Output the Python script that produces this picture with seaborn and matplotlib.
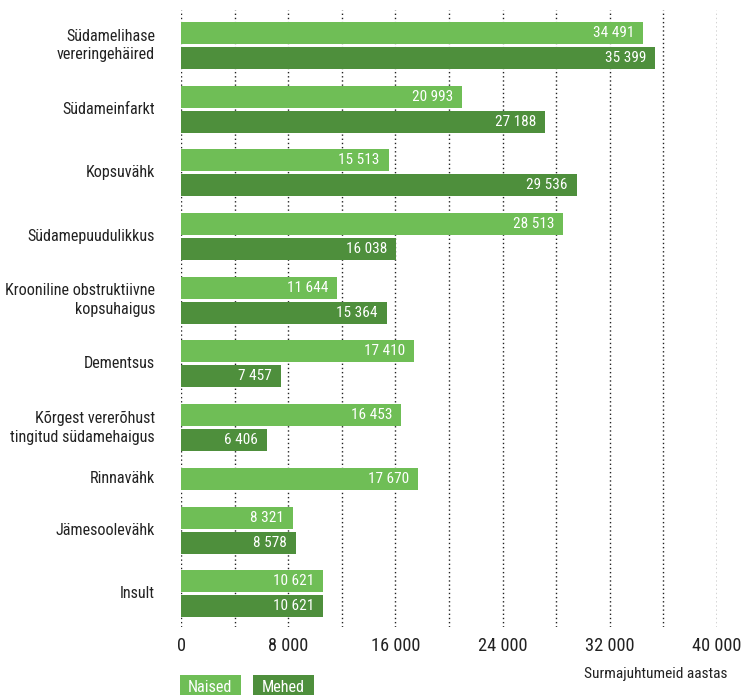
import matplotlib
matplotlib.use("Agg")
import matplotlib.pyplot as plt
import matplotlib.transforms as mtransforms
from matplotlib import font_manager
import numpy as np
import pandas as pd
import seaborn as sns

categories = ["Südamelihase\nvereringehäired", "Südameinfarkt", "Kopsuvähk",
              "Südamepuudulikkus", "Krooniline obstruktiivne\nkopsuhaigus",
              "Dementsus", "Kõrgest vererõhust\ntingitud südamehaigus",
              "Rinnavähk", "Jämesoolevähk", "Insult"]
naised = [34491, 20993, 15513, 28513, 11644, 17410, 16453, 17670, 8321, 10621]
mehed = [35399, 27188, 29536, 16038, 15364, 7457, 6406, None, 8578, 10621]
series_names = ["Naised", "Mehed"]
x_ticks = [0, 8000, 16000, 24000, 32000, 40000]
x_title = "Surmajuhtumeid aastas"

colors = {"Naised": "#6FBE56", "Mehed": "#4E8F3C"}

sns.set_theme(style="white")
names = {f.name for f in font_manager.fontManager.ttflist}
fam = [f for f in ["Liberation Sans Narrow", "Roboto Condensed", "Open Sans Condensed", "DejaVu Sans Condensed"] if f in names]
plt.rcParams["font.family"] = fam + ["Liberation Sans", "DejaVu Sans"]

# layout in pixel-like units (y grows downward)
bar_h, bar_pitch, group_gap = 22, 25, 16.7
rows = []
group_centers = []
y = 22.0
for cat, n_val, m_val in zip(categories, naised, mehed):
    start = y
    for s, v in zip(series_names, [n_val, m_val]):
        if v is None:
            continue
        rows.append({"category": cat, "series": s, "value": v, "pos": y + bar_h / 2})
        y += bar_pitch
    end = y - (bar_pitch - bar_h)
    group_centers.append((start + end) / 2)
    y = end + group_gap
df = pd.DataFrame(rows)

fig = plt.figure(figsize=(7.43, 6.95), dpi=100)
ax = fig.add_axes([181 / 743, 1 - 627 / 695, (717 - 181) / 743, (627 - 10) / 695])

sns.barplot(data=df, x="value", y="pos", hue="series", hue_order=series_names,
            palette=colors, orient="h", native_scale=True, dodge=False,
            width=bar_h / bar_pitch, errorbar=None, legend=False, ax=ax,
            linewidth=0, saturation=1)

ax.set_xlim(0, 40000)
ax.set_ylim(627, 10)
ax.set_xticks(x_ticks)
ax.set_xticks(np.arange(0, 40001, 4000), minor=True)
ax.set_xticklabels([f"{t:,}".replace(",", " ") for t in x_ticks], fontsize=12, color="#222222")
ax.set_yticks([])
ax.tick_params(axis="x", which="both", length=0, pad=7)
for sp in ax.spines.values():
    sp.set_visible(False)
ax.set_axisbelow(True)
for gx in np.arange(0, 40001, 4000):
    ax.axvline(gx, color="#222222", lw=1.0, ls=(0, (1, 2)), zorder=0)
ax.set_xlabel("")
ax.set_ylabel("")

off = mtransforms.offset_copy(ax.transData, fig=fig, x=-9, y=0, units="dots")
val_texts = []
for _, r in df.iterrows():
    val_texts.append(ax.text(r["value"], r["pos"], f"{int(r['value']):,}".replace(",", " "),
                             transform=off, ha="right", va="center", color="white", fontsize=11.5))

lab_tr = mtransforms.offset_copy(ax.transData, fig=fig, x=-26, y=0, units="dots")
cat_texts = []
for cat, c in zip(categories, group_centers):
    cat_texts.append(ax.text(0, c, cat, transform=lab_tr, ha="right", va="center",
                             fontsize=12.5, color="#222222", linespacing=1.3, clip_on=False))

title = fig.text(728 / 743, 1 - 674 / 695, x_title, ha="right", va="center",
                 fontsize=12, color="#222222")

leg1 = fig.text(210 / 743, 1 - 687 / 695, "Naised", ha="center", va="center", fontsize=12.5,
                color="white")
leg2 = fig.text(283 / 743, 1 - 687 / 695, "Mehed", ha="center", va="center", fontsize=12.5,
                color="white")
for (x0, x1), col in [((180, 241), colors["Naised"]), ((253, 314), colors["Mehed"])]:
    fig.patches.append(plt.Rectangle((x0 / 743, 0), (x1 - x0) / 743, (695 - 675) / 695,
                                     transform=fig.transFigure, fc=col, ec="none", zorder=0))

# scale fonts so that text widths roughly match the reference's condensed typeface
fig.canvas.draw()
r = fig.canvas.get_renderer()

def scale_for(sample, size, target_w):
    probe = fig.text(0, 0, sample, fontsize=size)
    w = probe.get_window_extent(r).width
    probe.remove()
    return target_w / w

s = scale_for("Krooniline obstruktiivne", 12.5, 151)
for t in cat_texts:
    t.set_fontsize(12.5 * s)
s = scale_for("34 491", 11.5, 41)
for t in val_texts:
    t.set_fontsize(11.5 * s)
s = scale_for("32 000", 12, 49)
for tl in ax.get_xticklabels():
    tl.set_fontsize(12 * s)
s = scale_for(x_title, 12, 143)
title.set_fontsize(12 * s)
s = scale_for("Naised", 12.5, 45)
leg1.set_fontsize(12.5 * s)
leg2.set_fontsize(12.5 * s)

fig.savefig("out.png", dpi=100)
